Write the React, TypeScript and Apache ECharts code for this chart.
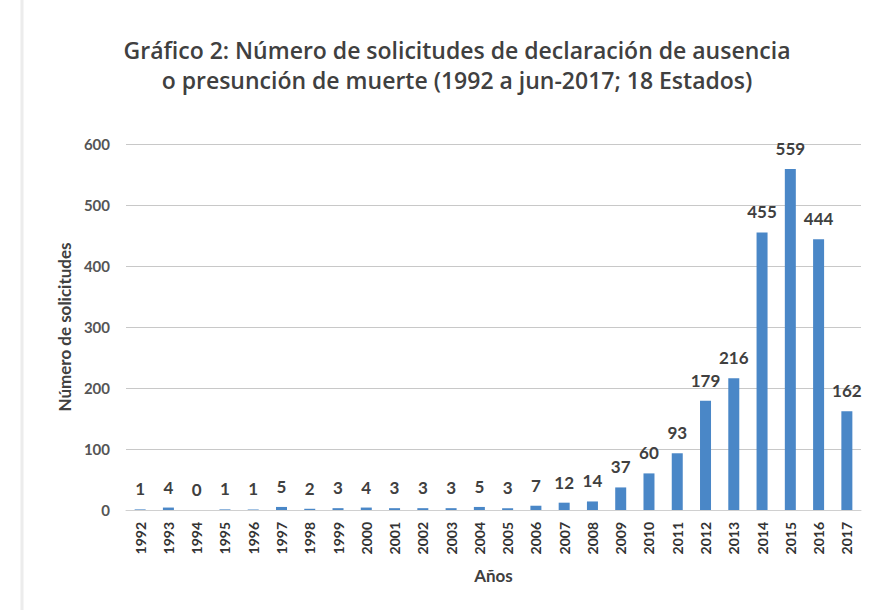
import React, { useEffect, useRef } from "react";
import * as echarts from "echarts";

const years = ["1992","1993","1994","1995","1996","1997","1998","1999","2000","2001","2002","2003","2004","2005","2006","2007","2008","2009","2010","2011","2012","2013","2014","2015","2016","2017"];
const solicitudes = [1,4,0,1,1,5,2,3,4,3,3,3,5,3,7,12,14,37,60,93,179,216,455,559,444,162];
const yTicks = [0, 100, 200, 300, 400, 500, 600];

const titleText = "Gráfico 2: Número de solicitudes de declaración de ausencia\no presunción de muerte (1992 a jun-2017; 18 Estados)";

export default function App() {
  const ref = useRef<HTMLDivElement>(null);
  useEffect(() => {
    const chart = echarts.init(ref.current!, null, { renderer: "svg" });
    chart.setOption({
      animation: false,
      backgroundColor: "#ffffff",
      textStyle: { fontFamily: "Open Sans" },
      title: {
        text: titleText,
        left: 452,
        textAlign: "center",
        top: 30,
        textStyle: { fontFamily: "Open Sans", fontSize: 23, fontWeight: 600, color: "#404040", lineHeight: 30 },
      },
      graphic: [
        {
          type: "line",
          shape: { x1: 22, y1: 0, x2: 22, y2: 610 },
          style: { stroke: "#ececec", lineWidth: 3 },
          silent: true,
        },
      ],
      grid: { left: 126, right: 17, top: 144, bottom: 100, containLabel: false },
      xAxis: {
        type: "category",
        data: years,
        name: "Años",
        nameLocation: "middle",
        nameGap: 57,
        nameTextStyle: { fontFamily: "Lato", fontSize: 17, fontWeight: "bold", color: "#404040" },
        axisLine: { show: true, lineStyle: { color: "#d0d0d0" } },
        axisTick: { show: false },
        axisLabel: { rotate: 90, fontFamily: "Lato", fontSize: 14, color: "#333333", fontWeight: "bold", margin: 12, interval: 0 },
      },
      yAxis: {
        type: "value",
        min: yTicks[0],
        max: yTicks[yTicks.length - 1],
        interval: 100,
        name: "Número de solicitudes",
        nameLocation: "middle",
        nameGap: 51,
        nameTextStyle: { fontFamily: "Lato", fontSize: 17, fontWeight: "bold", color: "#404040" },
        axisLine: { show: false },
        axisTick: { show: false },
        axisLabel: { fontFamily: "Lato", fontSize: 15, fontWeight: "bold", color: "#555555", margin: 16 },
        splitLine: { lineStyle: { color: "#c8c8c8", width: 1 } },
      },
      series: [
        {
          type: "bar",
          data: solicitudes,
          barWidth: 11,
          itemStyle: { color: "#4a87c7" },
          label: {
            show: true,
            position: "top",
            distance: 12,
            fontFamily: "Lato",
            fontSize: 17,
            fontWeight: "bold",
            color: "#404040",
          },
        },
      ],
    });
    return () => chart.dispose();
  }, []);
  return (
    <div
      ref={ref}
      style={{ position: "absolute", left: 0, top: 0, width: 878, height: 610 }}
    />
  );
}
